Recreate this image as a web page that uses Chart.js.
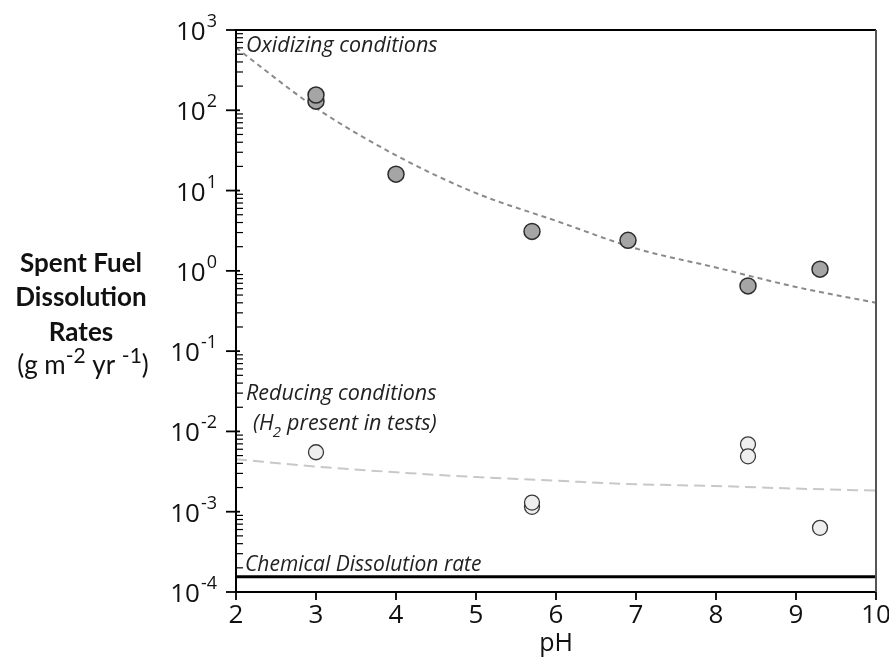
<!DOCTYPE html>
<html>
<head>
<meta charset="utf-8">
<script src="https://cdn.jsdelivr.net/npm/chart.js@4.4.1/dist/chart.umd.min.js"></script>
<style>
  html, body { margin: 0; padding: 0; background: #fff; }
</style>
</head>
<body>
<canvas id="rates" width="889" height="668"></canvas>
<script>
// measured dissolution rates (g m-2 yr-1) against pH
const oxidPH   = [3, 3, 4, 5.7, 6.9, 8.4, 9.3];
const oxidRate = [130, 155, 16, 3.1, 2.4, 0.65, 1.05];

const reducPH   = [3, 5.7, 5.7, 8.4, 8.4, 9.3];
const reducRate = [0.0055, 0.00115, 0.0013, 0.0069, 0.0049, 0.00063];

// trend curves
const fitPH    = [2, 3, 4, 5, 6, 7, 8, 9, 10];
const oxidFit  = [600, 107, 27.5, 9.3, 4.2, 1.9, 1.1, 0.63, 0.40];
const reducFit = [0.0045, 0.00365, 0.0031, 0.0027, 0.00243, 0.0022, 0.00209, 0.00194, 0.00183];

// chemical dissolution rate, flat across the pH range
const chemPH   = [2, 10];
const chemRate = [1.55e-4, 1.55e-4];

const xTicks = [2, 3, 4, 5, 6, 7, 8, 9, 10];
const yExps  = [-4, -3, -2, -1, 0, 1, 2, 3];

const toXY = (xs, ys) => xs.map((v, i) => ({x: v, y: ys[i]}));

const tickFont = '"Open Sans", sans-serif';
const noteSize = 21.5;

// draws a base string followed by a raised smaller string
function drawSup(ctx, base, sup, x, y, size, supSize, shift, align) {
  ctx.font = size + 'px ' + tickFont;
  const wb = ctx.measureText(base).width;
  ctx.font = supSize + 'px ' + tickFont;
  const ws = ctx.measureText(sup).width;
  let x0 = x;
  if (align === 'right') x0 = x - wb - ws - 1;
  ctx.textAlign = 'left';
  ctx.font = size + 'px ' + tickFont;
  ctx.fillText(base, x0, y);
  ctx.font = supSize + 'px ' + tickFont;
  ctx.fillText(sup, x0 + wb + 1, y + shift);
}

const axisDecor = {
  id: 'axisDecor',
  afterDraw(chart) {
    const {ctx, chartArea: a, scales: {x, y}} = chart;
    ctx.save();
    ctx.fillStyle = '#111';
    ctx.textBaseline = 'alphabetic';

    // frame
    ctx.lineWidth = 2;
    ctx.strokeStyle = '#000';
    ctx.beginPath();
    ctx.moveTo(a.right, a.top);
    ctx.lineTo(a.left, a.top);
    ctx.lineTo(a.left, a.bottom);
    ctx.lineTo(a.right, a.bottom);
    ctx.stroke();
    ctx.strokeStyle = '#555';
    ctx.beginPath();
    ctx.moveTo(a.right, a.top);
    ctx.lineTo(a.right, a.bottom);
    ctx.stroke();

    // y ticks: major outside, minor inside
    ctx.strokeStyle = '#000';
    yExps.forEach(e => {
      const py = y.getPixelForValue(Math.pow(10, e));
      ctx.lineWidth = 1.8;
      ctx.beginPath();
      ctx.moveTo(a.left - 10, py);
      ctx.lineTo(a.left + 4, py);
      ctx.stroke();
      if (e < 3) {
        ctx.lineWidth = 1.2;
        for (let m = 2; m <= 9; m++) {
          const pm = y.getPixelForValue(m * Math.pow(10, e));
          ctx.beginPath();
          ctx.moveTo(a.left, pm);
          ctx.lineTo(a.left + 7, pm);
          ctx.stroke();
        }
      }
      drawSup(ctx, '10', String(e), 217, py + 10, 26, 18, -13, 'right');
    });

    // x ticks
    ctx.lineWidth = 1.8;
    xTicks.forEach(v => {
      const px = x.getPixelForValue(v);
      ctx.beginPath();
      ctx.moveTo(px, a.bottom);
      ctx.lineTo(px, a.bottom + 8);
      ctx.stroke();
      ctx.font = '26px ' + tickFont;
      ctx.textAlign = 'center';
      ctx.fillText(String(v), px, a.bottom + 31);
    });
    ctx.font = '25px ' + tickFont;
    ctx.textAlign = 'center';
    ctx.fillText('pH', (a.left + a.right) / 2, a.bottom + 59);

    // y axis title
    const cx = 81;
    ctx.font = 'bold 26px Lato, sans-serif';
    ctx.fillText('Spent Fuel', cx, 272);
    ctx.fillText('Dissolution', cx, 306);
    ctx.fillText('Rates', cx, 341);
    const parts = [['(g m', 0, 26], ['-2', -11, 21], [' yr ', 0, 26], ['-1', -11, 21], [')', 0, 26]];
    let total = 0;
    parts.forEach(p => { ctx.font = p[2] + 'px Lato, sans-serif'; total += ctx.measureText(p[0]).width; });
    let px = cx + 2 - total / 2;
    ctx.textAlign = 'left';
    parts.forEach(p => {
      ctx.font = p[2] + 'px Lato, sans-serif';
      ctx.fillText(p[0], px, 374 + p[1]);
      px += ctx.measureText(p[0]).width;
    });

    // notes inside the plot
    const note = 'italic ' + noteSize + 'px "Open Sans", sans-serif';
    ctx.fillStyle = '#222';
    ctx.font = note;
    ctx.fillText('Oxidizing conditions', a.left + 10, a.top + 22);
    ctx.fillText('Reducing conditions', a.left + 10, 400);
    ctx.fillText('(', a.left + 17, 430);
    let hx = a.left + 17 + ctx.measureText('(').width;
    ctx.fillText('H', hx, 430);
    hx += ctx.measureText('H').width;
    ctx.font = 'italic 15px "Open Sans", sans-serif';
    ctx.fillText('2', hx - 1, 437);
    hx += ctx.measureText('2').width + 5;
    ctx.font = note;
    ctx.fillText('present in tests)', hx, 430);
    ctx.font = 'italic 21px "Open Sans", sans-serif';
    ctx.fillText('Chemical Dissolution rate', a.left + 9, 571);
    ctx.restore();
  }
};

new Chart(document.getElementById('rates'), {
  type: 'scatter',
  data: {
    datasets: [
      {
        label: 'Oxidizing conditions',
        data: toXY(oxidPH, oxidRate),
        backgroundColor: '#a5a5a5',
        borderColor: '#2b2b2b',
        borderWidth: 1.5,
        pointRadius: 8,
        order: 1
      },
      {
        label: 'Reducing conditions',
        data: toXY(reducPH, reducRate),
        backgroundColor: '#efefef',
        borderColor: '#3a3a3a',
        borderWidth: 1.3,
        pointRadius: 7.5,
        order: 1
      },
      {
        label: 'Oxidizing trend',
        type: 'line',
        data: toXY(fitPH, oxidFit),
        borderColor: '#8a8a8a',
        borderWidth: 2,
        borderDash: [5, 4],
        pointRadius: 0,
        cubicInterpolationMode: 'monotone',
        order: 2
      },
      {
        label: 'Reducing trend',
        type: 'line',
        data: toXY(fitPH, reducFit),
        borderColor: '#c8c8c8',
        borderWidth: 2,
        borderDash: [11, 6],
        pointRadius: 0,
        cubicInterpolationMode: 'monotone',
        order: 2
      },
      {
        label: 'Chemical Dissolution rate',
        type: 'line',
        data: toXY(chemPH, chemRate),
        borderColor: '#000',
        borderWidth: 3,
        pointRadius: 0,
        order: 2
      }
    ]
  },
  options: {
    responsive: false,
    animation: false,
    layout: { padding: { left: 0, top: 30, right: 13, bottom: 0 } },
    plugins: { legend: { display: false }, tooltip: { enabled: false } },
    scales: {
      x: {
        type: 'linear', min: 2, max: 10,
        grid: { display: false }, border: { display: false },
        ticks: { display: false },
        afterFit: s => { s.height = 76; }
      },
      y: {
        type: 'logarithmic', min: 1e-4, max: 1e3,
        grid: { display: false }, border: { display: false },
        ticks: { display: false },
        afterFit: s => { s.width = 236; }
      }
    }
  },
  plugins: [axisDecor]
});
</script>
</body>
</html>
